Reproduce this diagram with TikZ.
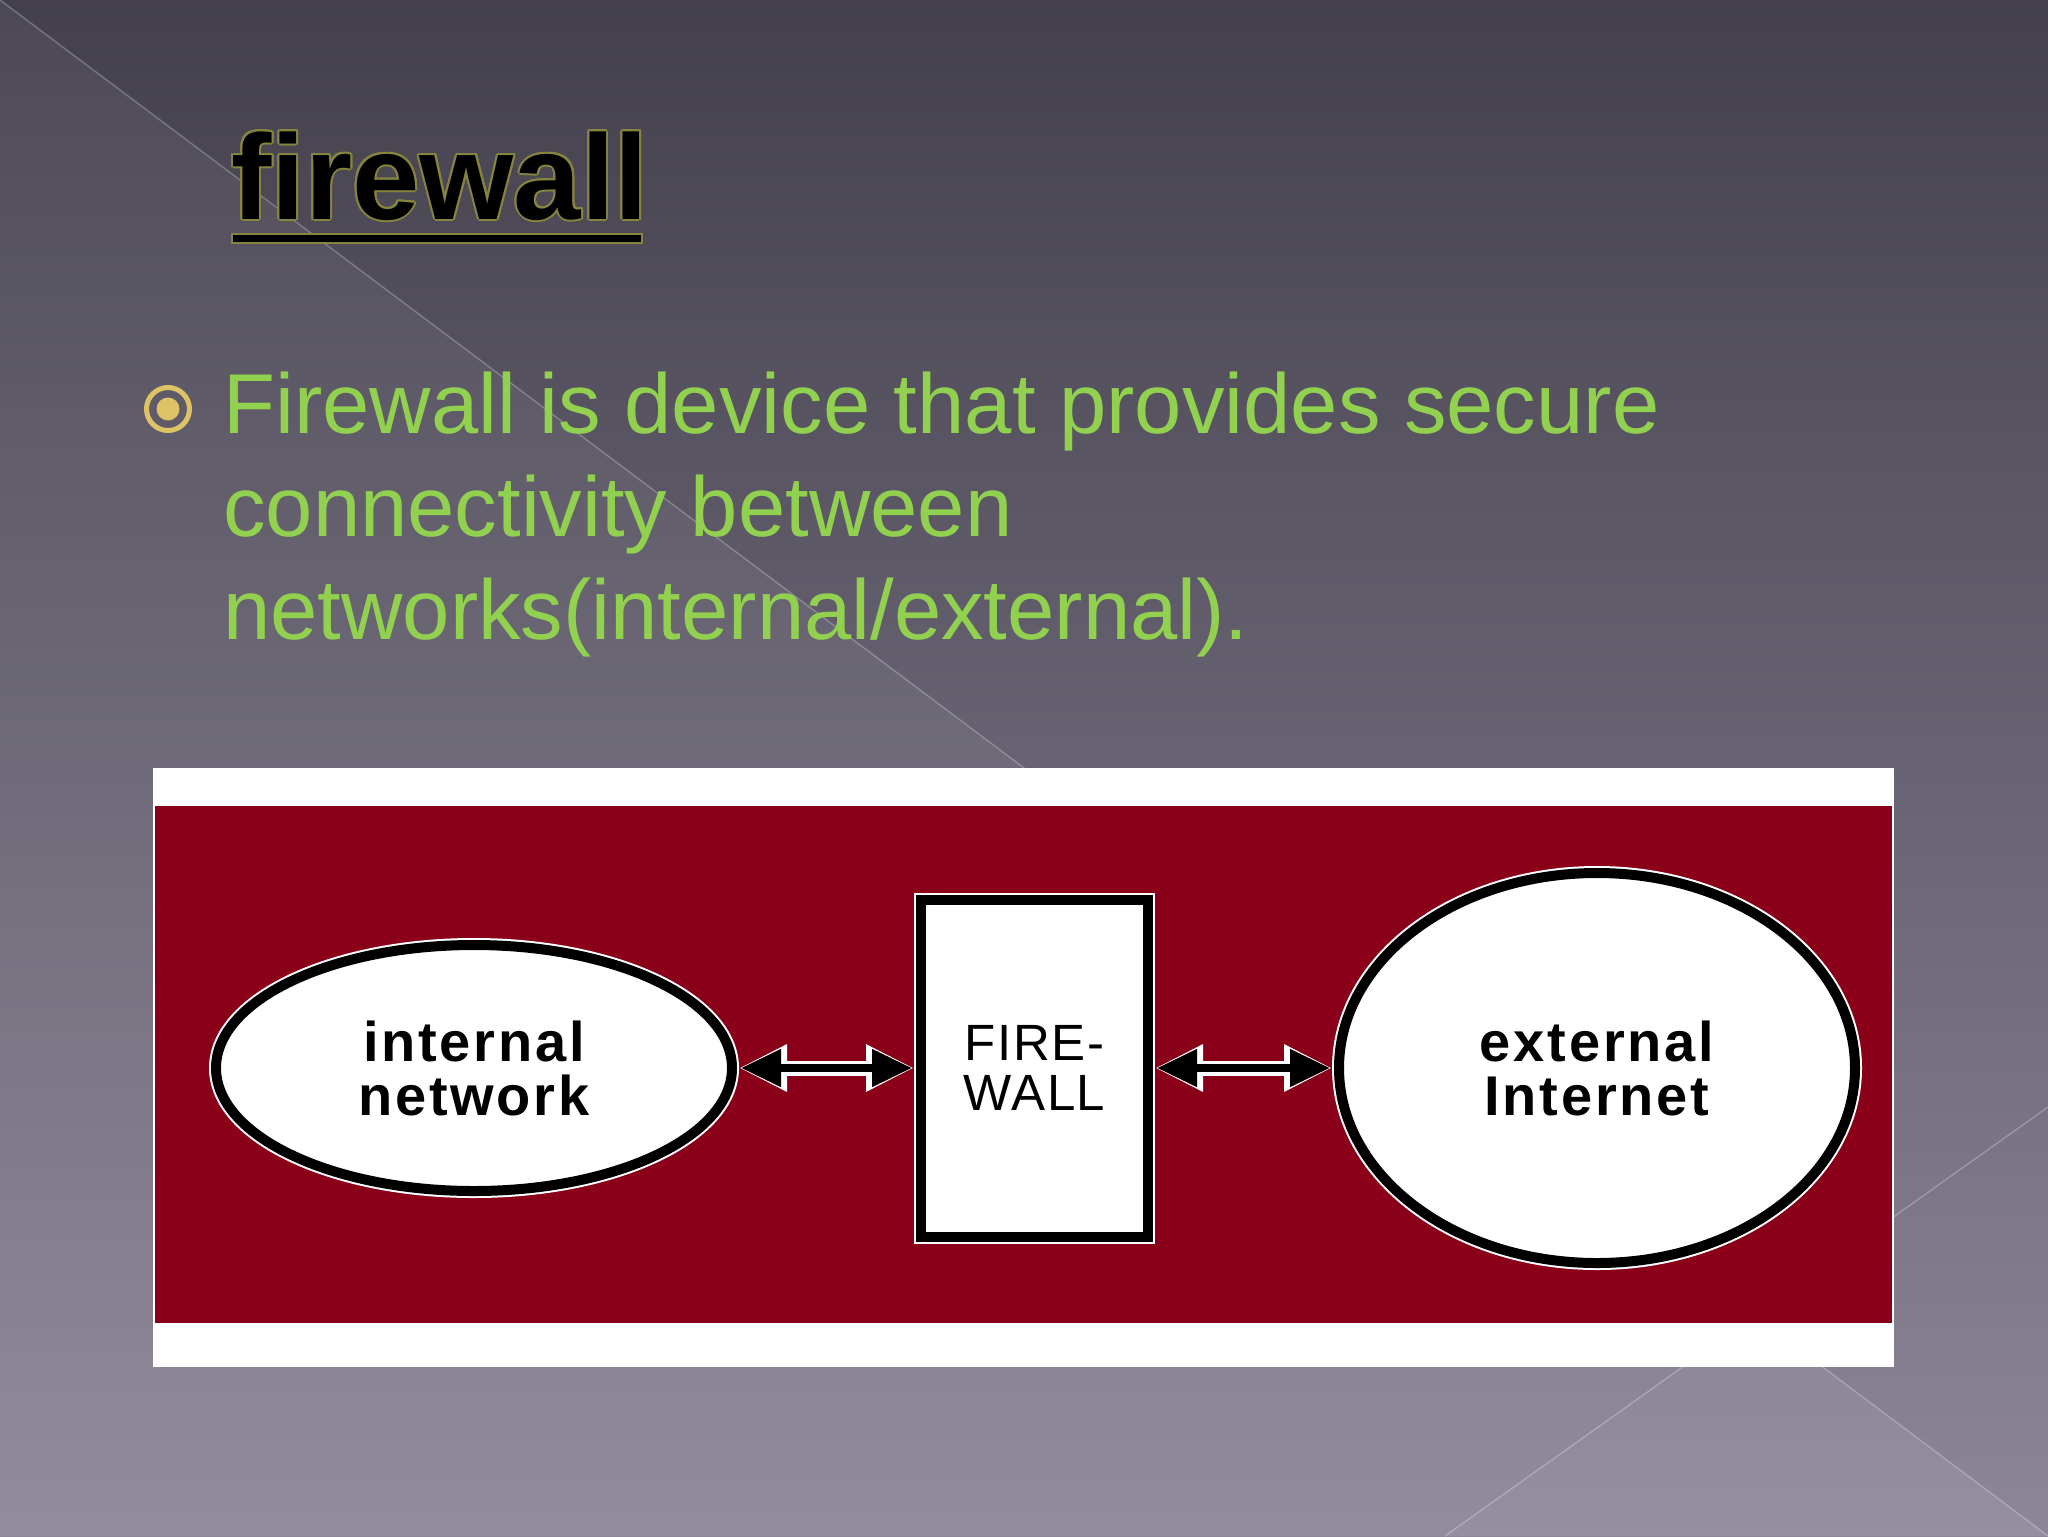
\documentclass[tikz,border=0pt]{standalone}
\usepackage{fontspec}
\setmainfont{Liberation Sans}
\newfontfamily\diagfont{Liberation Sans}[LetterSpace=5.0]
\newfontfamily\boxfont{Liberation Sans}[LetterSpace=3.0]
\usepackage[copies]{contour}
\usetikzlibrary{shapes.geometric,arrows.meta}
\definecolor{bgtop}{RGB}{67,64,76}
\definecolor{bgbot}{RGB}{141,134,152}
\definecolor{txtgreen}{RGB}{146,208,80}
\definecolor{bulgold}{RGB}{221,195,102}
\definecolor{titleol}{RGB}{135,132,62}
\definecolor{fwred}{RGB}{138,0,24}
\contourlength{1pt}
\begin{document}
\begin{tikzpicture}[x=0.5pt,y=-0.5pt,
  bodytext/.style={text=txtgreen, font=\fontsize{42.5}{51}\selectfont, anchor=base west, inner sep=0pt},
  netshape/.style={ellipse, draw=white, line width=1pt, double=black, double distance=5pt, fill=white,
     inner sep=0pt, outer sep=3.5pt, align=center, font=\diagfont\fontsize{28}{27}\selectfont\bfseries},
  fwbox/.style={rectangle, draw=white, line width=1pt, double=black, double distance=5pt, fill=white,
     inner sep=0pt, outer sep=3.5pt, align=center, font=\boxfont\fontsize{25.5}{25}\selectfont},
  halo/.style={draw=white, line width=7.5pt, {Triangle[length=24pt,width=22pt]}-{Triangle[length=24pt,width=22pt]}},
  core/.style={draw=black, line width=4pt, shorten <=1pt, shorten >=1pt, {Triangle[length=20pt,width=18pt]}-{Triangle[length=20pt,width=18pt]}}
]
\useasboundingbox (0,0) rectangle (2048,1536);
% background
\shade[top color=bgtop, bottom color=bgbot] (0,0) rectangle (2048,1536);
\fill[white, opacity=0.05] (0,0) -- (2048,1536) -- (0,1536) -- cycle;
\fill[white, opacity=0.03] (1754,1316) -- (2048,1536) -- (1445,1536) -- cycle;
\draw[white, opacity=0.25, line width=0.7pt] (0,0) -- (2048,1536);
\draw[white, opacity=0.25, line width=0.7pt] (2048,1107) -- (1445,1536);

% title
\node[anchor=base west, inner sep=0pt, font=\fontsize{60.5}{70}\selectfont\bfseries] (title) at (231,219) {\contour{titleol}{firewall}};
\filldraw[fill=black, draw=titleol, line width=1pt] (232,234) rectangle (642,243);

% bullet
\draw[bulgold, line width=2.5pt] (168,409) circle [radius=10.75pt];
\fill[bulgold] (168,409) circle [radius=5.75pt];

% body text
\node[bodytext] (l1) at (223,433) {Firewall is device that provides secure};
\node[bodytext] (l2) at (223,536) {connectivity between};
\node[bodytext] (l3) at (223,639) {networks(internal/external).};

% diagram frame
\fill[white] (153,768) rectangle (1894,1367);
\fill[fwred] (155,806) rectangle (1892,1323);

\node[netshape, minimum width=258pt, minimum height=123pt] (int) at (474,1068) {internal\\network};
\node[fwbox, minimum width=113.5pt, minimum height=168.5pt] (fw) at (1034.5,1068) {FIRE-\\WALL};
\node[netshape, minimum width=258pt, minimum height=195pt] (ext) at (1597,1068) {external\\Internet};

\draw[halo] (int.east) -- (fw.west);
\draw[core] (int.east) -- (fw.west);
\draw[halo] (fw.east) -- (ext.west);
\draw[core] (fw.east) -- (ext.west);
\end{tikzpicture}
\end{document}
